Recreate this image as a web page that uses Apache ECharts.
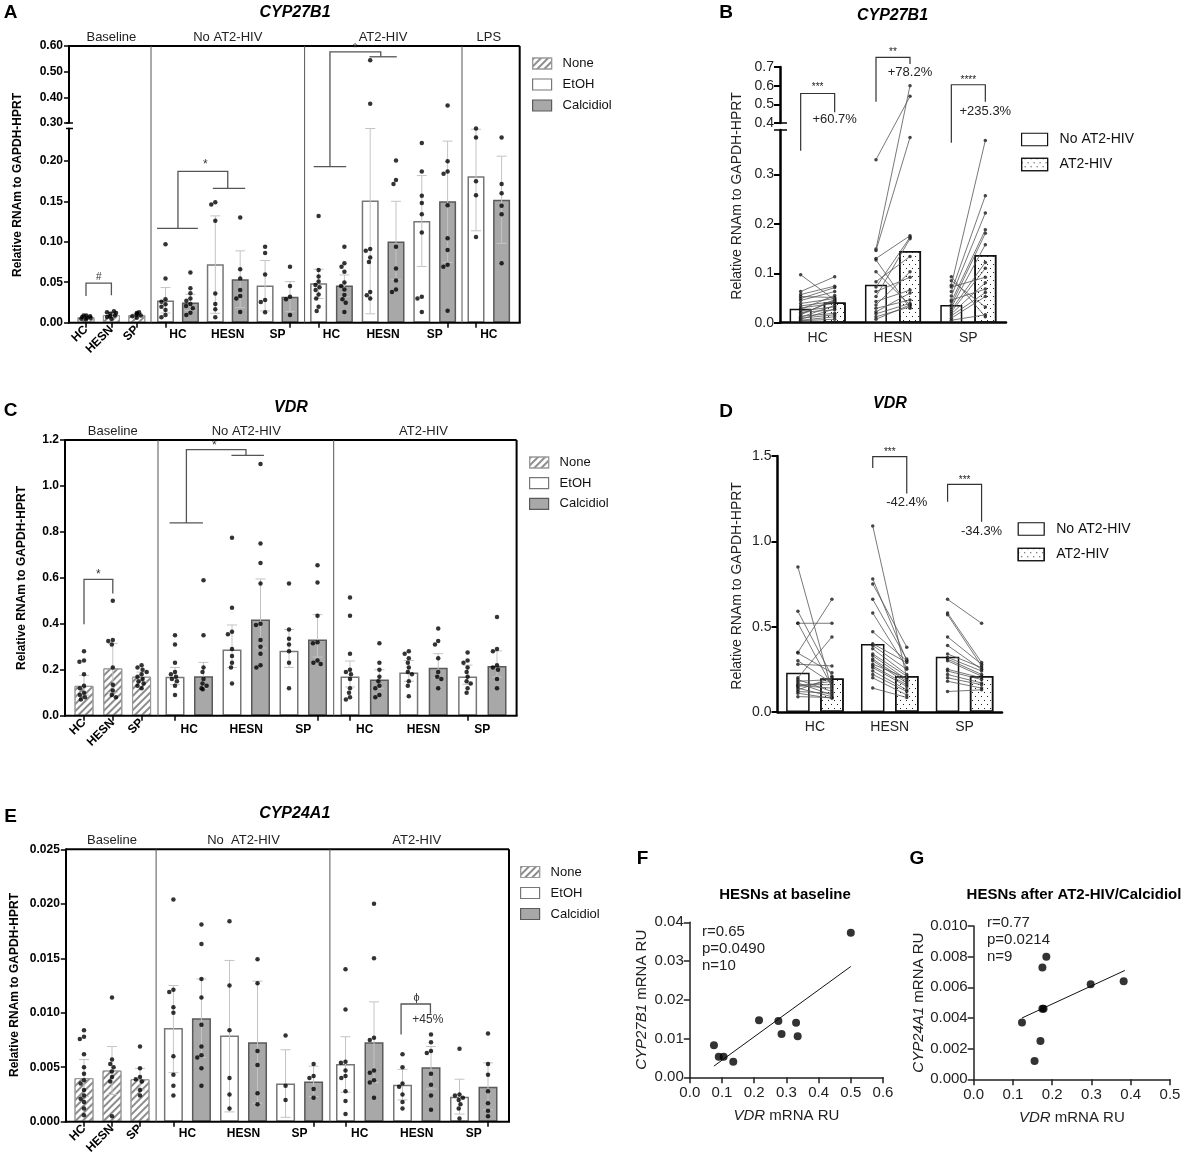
<!DOCTYPE html>
<html>
<head>
<meta charset="utf-8">
<title>CYP27B1 / VDR / CYP24A1</title>
<script src="https://cdn.jsdelivr.net/npm/echarts@6.0.0/dist/echarts.min.js"></script>
<style>
  html, body { margin: 0; padding: 0; background: #fff; }
  #chart { width: 1192px; height: 1162px; }
</style>
</head>
<body>
<div id="chart"></div>
<script>
// ---------- A: CYP27B1 by condition ----------
const groupsA = ["Baseline", "No AT2-HIV", "AT2-HIV", "LPS"];
const donorsA = [["HC", "HESN", "SP"], ["HC", "HESN", "SP"], ["HC", "HESN", "SP"], ["HC"]];
const treatA = [
  ["None", "None", "None"],
  ["EtOH", "Calcidiol", "EtOH", "Calcidiol", "EtOH", "Calcidiol"],
  ["EtOH", "Calcidiol", "EtOH", "Calcidiol", "EtOH", "Calcidiol"],
  ["EtOH", "Calcidiol"]
];
const meanA = [
  [0.007, 0.0095, 0.0095],
  [0.0275, 0.025, 0.0723, 0.0537, 0.0459, 0.0322],
  [0.0488, 0.0459, 0.151, 0.1004, 0.1256, 0.150],
  [0.181, 0.152]
];
const errLoA = [
  [0.005, 0.006, 0.008],
  [0.012, 0.015, 0.0116, 0.0186, 0.0145, 0.0136],
  [0.030, 0.032, 0.011, 0.053, 0.0694, 0.0744],
  [0.1136, 0.098]
];
const errHiA = [
  [0.009, 0.013, 0.011],
  [0.0434, 0.035, 0.132, 0.0888, 0.0769, 0.0508],
  [0.066, 0.059, 0.24, 0.150, 0.1818, 0.2244],
  [0.239, 0.2058]
];
const dotsA = [
  [[0.004, 0.005, 0.006, 0.007, 0.008, 0.009, 0.009, 0.006],
   [0.005, 0.007, 0.009, 0.011, 0.013, 0.014, 0.012, 0.008],
   [0.006, 0.008, 0.009, 0.010, 0.011, 0.012, 0.013]],
  [[0.097, 0.0545, 0.0289, 0.026, 0.0227, 0.0198, 0.0157, 0.0095, 0.0066],
   [0.062, 0.0426, 0.0364, 0.030, 0.027, 0.023, 0.0207, 0.018, 0.0124, 0.0095],
   [0.149, 0.146, 0.126, 0.036, 0.023, 0.0165, 0.0066],
   [0.130, 0.066, 0.0545, 0.0405, 0.033, 0.0298, 0.0132],
   [0.094, 0.086, 0.0595, 0.028, 0.0256, 0.0128],
   [0.069, 0.0455, 0.032, 0.029, 0.0095]],
  [[0.132, 0.065, 0.057, 0.051, 0.0467, 0.0438, 0.0405, 0.035, 0.030, 0.0198, 0.0145],
   [0.094, 0.0736, 0.069, 0.063, 0.0496, 0.0455, 0.041, 0.0343, 0.029, 0.0248, 0.0132],
   [0.544, 0.375, 0.091, 0.089, 0.0806, 0.075, 0.038, 0.034, 0.030],
   [0.2004, 0.1764, 0.1715, 0.094, 0.067, 0.052, 0.041, 0.038],
   [0.222, 0.187, 0.157, 0.148, 0.134, 0.1116, 0.032, 0.0298, 0.0132],
   [0.368, 0.1996, 0.187, 0.184, 0.145, 0.1045, 0.090, 0.0715, 0.069, 0.0149]],
  [[0.240, 0.229, 0.1748, 0.1574, 0.1058],
   [0.229, 0.1715, 0.160, 0.1446, 0.134, 0.0736]]
];

// ---------- B: CYP27B1 paired, no AT2-HIV vs AT2-HIV ----------
const donorsB = ["HC", "HESN", "SP"];
const meanNoB = [0.028, 0.077, 0.036];
const meanAtB = [0.041, 0.145, 0.137];
const pairNoB = [
  [0.097, 0.063, 0.057, 0.053, 0.049, 0.045, 0.039, 0.034, 0.030, 0.027, 0.024, 0.021, 0.018, 0.016, 0.013, 0.011, 0.009, 0.007, 0.005, 0.004],
  [0.33, 0.149, 0.146, 0.130, 0.127, 0.103, 0.083, 0.072, 0.063, 0.053, 0.043, 0.036, 0.029, 0.022, 0.018, 0.012, 0.007],
  [0.093, 0.085, 0.076, 0.072, 0.063, 0.054, 0.046, 0.043, 0.036, 0.031, 0.026, 0.022, 0.018, 0.014, 0.009, 0.005]
];
const pairAtB = [
  [0.046, 0.093, 0.074, 0.051, 0.071, 0.063, 0.049, 0.043, 0.039, 0.055, 0.032, 0.026, 0.044, 0.047, 0.019, 0.035, 0.016, 0.028, 0.012, 0.007],
  [0.543, 0.60, 0.375, 0.176, 0.029, 0.036, 0.134, 0.173, 0.092, 0.170, 0.066, 0.103, 0.046, 0.060, 0.039, 0.032, 0.036],
  [0.012, 0.032, 0.369, 0.092, 0.257, 0.222, 0.068, 0.188, 0.181, 0.158, 0.122, 0.110, 0.081, 0.061, 0.053, 0.016]
];

// ---------- C: VDR by condition ----------
const groupsC = ["Baseline", "No AT2-HIV", "AT2-HIV"];
const donorsC = [["HC", "HESN", "SP"], ["HC", "HESN", "SP"], ["HC", "HESN", "SP"]];
const treatC = [
  ["None", "None", "None"],
  ["EtOH", "Calcidiol", "EtOH", "Calcidiol", "EtOH", "Calcidiol"],
  ["EtOH", "Calcidiol", "EtOH", "Calcidiol", "EtOH", "Calcidiol"]
];
const meanC = [
  [0.130, 0.206, 0.170],
  [0.170, 0.172, 0.288, 0.419, 0.283, 0.332],
  [0.171, 0.158, 0.188, 0.209, 0.171, 0.216]
];
const errLoC = [
  [0.09, 0.10, 0.15],
  [0.135, 0.12, 0.21, 0.295, 0.21, 0.255],
  [0.125, 0.12, 0.15, 0.165, 0.137, 0.168]
];
const errHiC = [
  [0.175, 0.315, 0.19],
  [0.21, 0.232, 0.395, 0.595, 0.375, 0.44],
  [0.238, 0.2, 0.24, 0.27, 0.22, 0.282]
];
const dotsC = [
  [[0.28, 0.24, 0.235, 0.18, 0.13, 0.12, 0.10, 0.09, 0.08, 0.07],
   [0.50, 0.33, 0.325, 0.31, 0.21, 0.135, 0.11, 0.09, 0.08],
   [0.22, 0.21, 0.20, 0.19, 0.18, 0.17, 0.16, 0.15, 0.14, 0.13, 0.12]],
  [[0.35, 0.31, 0.23, 0.19, 0.18, 0.17, 0.16, 0.15, 0.13, 0.09],
   [0.59, 0.35, 0.21, 0.19, 0.16, 0.14, 0.13, 0.12, 0.115],
   [0.775, 0.47, 0.365, 0.355, 0.29, 0.26, 0.23, 0.21, 0.14],
   [1.095, 0.75, 0.665, 0.575, 0.40, 0.395, 0.33, 0.30, 0.27, 0.22, 0.21],
   [0.575, 0.375, 0.335, 0.31, 0.28, 0.23, 0.12],
   [0.655, 0.58, 0.435, 0.32, 0.315, 0.24, 0.23, 0.225]],
  [[0.515, 0.435, 0.27, 0.20, 0.19, 0.18, 0.16, 0.12, 0.10, 0.08, 0.07],
   [0.315, 0.23, 0.20, 0.17, 0.15, 0.13, 0.12, 0.09, 0.08],
   [0.28, 0.27, 0.25, 0.23, 0.21, 0.19, 0.18, 0.15, 0.13, 0.085],
   [0.38, 0.325, 0.31, 0.25, 0.19, 0.17, 0.16, 0.12],
   [0.275, 0.24, 0.23, 0.21, 0.19, 0.17, 0.15, 0.14, 0.12, 0.10],
   [0.43, 0.29, 0.28, 0.22, 0.21, 0.20, 0.16, 0.12]]
];

// ---------- D: VDR paired ----------
const donorsD = ["HC", "HESN", "SP"];
const meanNoD = [0.23, 0.398, 0.324];
const meanAtD = [0.197, 0.211, 0.211];
const pairNoD = [
  [0.85, 0.59, 0.52, 0.52, 0.35, 0.345, 0.30, 0.28, 0.20, 0.19, 0.18, 0.17, 0.16, 0.155, 0.15, 0.14, 0.13, 0.12, 0.11, 0.09],
  [1.09, 0.78, 0.75, 0.66, 0.58, 0.47, 0.40, 0.39, 0.37, 0.34, 0.33, 0.31, 0.30, 0.28, 0.27, 0.26, 0.24, 0.22, 0.20, 0.14],
  [0.66, 0.58, 0.57, 0.44, 0.39, 0.34, 0.32, 0.31, 0.30, 0.25, 0.24, 0.22, 0.20, 0.18, 0.12]
];
const pairAtD = [
  [0.13, 0.21, 0.52, 0.15, 0.66, 0.23, 0.17, 0.27, 0.44, 0.12, 0.19, 0.10, 0.16, 0.14, 0.18, 0.09, 0.20, 0.11, 0.08, 0.085],
  [0.20, 0.30, 0.38, 0.31, 0.26, 0.30, 0.29, 0.25, 0.22, 0.21, 0.19, 0.18, 0.17, 0.20, 0.16, 0.15, 0.13, 0.12, 0.10, 0.085],
  [0.52, 0.29, 0.27, 0.28, 0.25, 0.26, 0.24, 0.22, 0.21, 0.20, 0.19, 0.17, 0.16, 0.14, 0.13]
];

// ---------- E: CYP24A1 by condition ----------
const groupsE = ["Baseline", "No  AT2-HIV", "AT2-HIV"];
const donorsE = donorsC;
const treatE = treatC;
const meanE = [
  [0.0040, 0.0047, 0.0039],
  [0.0086, 0.0095, 0.0079, 0.0073, 0.0035, 0.0037],
  [0.0053, 0.0073, 0.0034, 0.0050, 0.0023, 0.0032]
];
const errLoE = [
  [0.0023, 0.0025, 0.0029],
  [0.0045, 0.0059, 0.0009, 0.0017, 0.0004, 0.0023],
  [0.0027, 0.0036, 0.0020, 0.0030, 0.0007, 0.0011]
];
const errHiE = [
  [0.0057, 0.0069, 0.0049],
  [0.0125, 0.0131, 0.0148, 0.0129, 0.0066, 0.0051],
  [0.0078, 0.0110, 0.0048, 0.0069, 0.0039, 0.0054]
];
const dotsE = [
  [[0.0084, 0.0078, 0.0076, 0.0062, 0.0050, 0.0044, 0.0038, 0.0035, 0.0029, 0.0024, 0.0021, 0.0018, 0.0012, 0.0006],
   [0.0114, 0.0057, 0.0053, 0.0050, 0.0046, 0.0041, 0.0037, 0.0005],
   [0.0069, 0.0049, 0.0041, 0.0039, 0.0037, 0.0029, 0.0024]],
  [[0.0204, 0.0121, 0.0119, 0.0105, 0.0100, 0.0060, 0.0043, 0.0033, 0.0024],
   [0.0181, 0.0163, 0.0131, 0.0114, 0.0089, 0.0069, 0.0061, 0.0059, 0.0049, 0.0033],
   [0.0184, 0.0125, 0.0084, 0.0040, 0.0025, 0.0012],
   [0.0149, 0.0127, 0.0065, 0.0052, 0.0026, 0.0016],
   [0.0079, 0.0033, 0.0020],
   [0.0053, 0.0042, 0.0040, 0.0030, 0.0022]],
  [[0.0140, 0.0103, 0.0055, 0.0054, 0.0047, 0.0042, 0.0040, 0.0028, 0.0019, 0.0007],
   [0.0200, 0.0150, 0.0077, 0.0075, 0.0047, 0.0045, 0.0038, 0.0036, 0.0022],
   [0.0062, 0.0050, 0.0035, 0.0032, 0.0025, 0.0018, 0.0012],
   [0.0080, 0.0073, 0.0065, 0.0063, 0.0044, 0.0034, 0.0024, 0.0011],
   [0.0067, 0.0025, 0.0024, 0.0022, 0.0020, 0.0016, 0.0012, 0.0003],
   [0.0081, 0.0053, 0.0043, 0.0028, 0.0017, 0.0010, 0.0005]]
];

// ---------- F / G: correlations ----------
const pointsF = [[0.075, 0.0083], [0.09, 0.0053], [0.105, 0.0053], [0.135, 0.0040], [0.215, 0.0147],
                 [0.275, 0.0145], [0.285, 0.0112], [0.33, 0.0141], [0.335, 0.0106], [0.50, 0.0373]];
const fitF = [[0.075, 0.0029], [0.50, 0.0286]];
const statsF = ["r=0.65", "p=0.0490", "n=10"];
const pointsG = [[0.123, 0.0037], [0.155, 0.0012], [0.17, 0.0025], [0.175, 0.0073], [0.175, 0.0046],
                 [0.178, 0.0046], [0.185, 0.0080], [0.298, 0.0062], [0.382, 0.0064]];
const fitG = [[0.123, 0.0040], [0.385, 0.0071]];
const statsG = ["r=0.77", "p=0.0214", "n=9"];

// ================= chart =================
const FONT = '"Liberation Sans", Arial, Helvetica, sans-serif';
const chart = echarts.init(document.getElementById("chart"));

const HATCH = {symbol: "rect", symbolSize: 1, dashArrayX: [1, 0], dashArrayY: [1.3, 3], rotation: -Math.PI / 4, color: "#8c8c8c"};
const DOTS = {symbol: "rect", symbolSize: 1, dashArrayX: [[1, 5], [0, 3, 1, 2]], dashArrayY: [1, 3], color: "#222"};
const TREAT_STYLE = {
  None: {color: "#fff", borderColor: "#9a9a9a", borderWidth: 1, decal: HATCH},
  EtOH: {color: "#fff", borderColor: "#777", borderWidth: 1.5},
  Calcidiol: {color: "#a8a8a8", borderColor: "#5a5a5a", borderWidth: 1.5}
};

const grid = [], xAxis = [], yAxis = [], series = [], staticG = [];
const refs = {};

function cart(key, l, t, r, b, xOpt, yOpt) {
  const gi = grid.length;
  grid.push({left: l, top: t, width: r - l, height: b - t});
  xAxis.push(Object.assign({gridIndex: gi}, xOpt));
  yAxis.push(Object.assign({gridIndex: gi}, yOpt));
  refs[key] = {gi: gi, xi: xAxis.length - 1, yi: yAxis.length - 1};
  return refs[key];
}

function line(x1, y1, x2, y2, color, w) {
  return {type: "line", z: 100, silent: true, shape: {x1: x1, y1: y1, x2: x2, y2: y2}, style: {stroke: color, lineWidth: w}};
}
function txt(x, y, text, o) {
  o = o || {};
  return {type: "text", x: x, y: y, rotation: o.rot || 0, z: 100, silent: true,
    style: {text: text, fill: o.color || "#000", fontSize: o.size || 12, fontWeight: o.weight || "normal",
      fontStyle: o.italic ? "italic" : "normal", fontFamily: FONT, align: o.align || "center", verticalAlign: "middle"}};
}

function errorBar(params, api) {
  const i = api.value(0);
  const lo = api.coord([i, api.value(1)]);
  const hi = api.coord([i, api.value(2)]);
  const w = 5, st = {stroke: "#c4c4c4", lineWidth: 1};
  return {type: "group", children: [
    {type: "line", shape: {x1: lo[0], y1: lo[1], x2: hi[0], y2: hi[1]}, style: st},
    {type: "line", shape: {x1: hi[0] - w, y1: hi[1], x2: hi[0] + w, y2: hi[1]}, style: st},
    {type: "line", shape: {x1: lo[0] - w, y1: lo[1], x2: lo[0] + w, y2: lo[1]}, style: st}
  ]};
}

// grouped bar panel (A, C, E)
function barPanel(P) {
  const nSeg = P.segs.length;
  P.segs.forEach((s, si) => {
    cart(P.id + "F" + si, P.box[0], s.top, P.box[1], s.bottom,
      {type: "value", min: 0, max: 1, show: false},
      {type: "value", min: s.min, max: s.max,
        axisLine: {show: true, lineStyle: {color: "#000", width: 2}},
        axisTick: {show: true, length: 5, customValues: s.ticks, lineStyle: {color: "#000", width: 1.5}},
        axisLabel: {customValues: s.ticks, formatter: v => v.toFixed(P.dec), fontFamily: FONT, fontSize: 12,
          fontWeight: "bold", color: "#000", margin: 6},
        splitLine: {show: false}});
  });
  P.groups.forEach((gName, g) => {
    const n = P.treat[g].length, step = P.step[g];
    const l = P.first[g] - step / 2, r = l + n * step;
    const cats = P.treat[g].map((t, i) => P.donors[g][Math.floor(i * P.donors[g].length / n)] + "|" + t + i);
    const rot = g === 0;
    P.segs.forEach((s, si) => {
      const last = si === nSeg - 1;
      const ref = cart(P.id + g + "-" + si, l, s.top, r, s.bottom,
        {type: "category", data: cats, position: "bottom", axisLine: {show: false},
          axisTick: {show: last, alignWithLabel: true, length: 5, lineStyle: {color: "#000", width: 1.5}},
          axisLabel: rot && last ? {interval: 0, rotate: 45, margin: 5, formatter: v => v.split("|")[0],
            fontFamily: FONT, fontSize: 12, fontWeight: "bold", color: "#000"} : {show: false},
          jitter: P.barW * 0.55, jitterOverlap: false, jitterMargin: 0.2},
        {type: "value", min: s.min, max: s.max, show: false});
      if (last && !rot) {
        xAxis.push({gridIndex: ref.gi, type: "category", data: P.donors[g], position: "bottom",
          axisLine: {show: false}, axisTick: {show: false},
          axisLabel: {interval: 0, margin: P.labelMargin, fontFamily: FONT, fontSize: 12, fontWeight: "bold", color: "#000"}});
      }
      if (si === 0) {
        xAxis.push({gridIndex: ref.gi, type: "category", data: [""], position: "top",
          axisLine: {show: false}, axisTick: {show: false}, axisLabel: {show: false},
          name: gName, nameLocation: "middle", nameGap: 2,
          nameTextStyle: {fontFamily: FONT, fontSize: 13, color: "#222"}});
      }
      if (last) {
        ["None", "EtOH", "Calcidiol"].forEach(t => {
          if (P.treat[g].indexOf(t) < 0) return;
          series.push({type: "bar", name: t, xAxisIndex: ref.xi, yAxisIndex: ref.yi, barWidth: P.barW, barGap: "-100%",
            itemStyle: TREAT_STYLE[t], z: 2, silent: true,
            data: P.mean[g].map((v, i) => P.treat[g][i] === t ? v : "-")});
        });
        series.push({type: "custom", xAxisIndex: ref.xi, yAxisIndex: ref.yi, z: 3, silent: true, renderItem: errorBar,
          encode: {x: 0, y: [1, 2]}, data: P.lo[g].map((lo, i) => [i, lo, P.hi[g][i]])});
      }
      const pts = [];
      P.dots[g].forEach((list, i) => list.forEach(v => { if (v >= s.min && v <= s.max) pts.push([i, v]); }));
      series.push({type: "scatter", xAxisIndex: ref.xi, yAxisIndex: ref.yi, z: 4, silent: true,
        symbolSize: P.dot, itemStyle: {color: "#000"}, data: pts});
    });
  });
  // frame
  const top = P.segs[0].top, bot = P.segs[nSeg - 1].bottom;
  staticG.push(line(P.box[0], top, P.box[1], top, "#000", 2));
  staticG.push(line(P.box[1], top, P.box[1], bot, "#000", 2));
  staticG.push(line(P.box[0] - 1, bot, P.box[1] + 1, bot, "#000", 2));
  P.seps.forEach(x => staticG.push(line(x, top, x, bot, "#555", 1)));
  if (nSeg > 1) {
    staticG.push(line(P.box[0] - 3, P.segs[0].bottom, P.box[0] + 4, P.segs[0].bottom, "#000", 1.5));
    staticG.push(line(P.box[0] - 3, P.segs[1].top, P.box[0] + 4, P.segs[1].top, "#000", 1.5));
  }
}

barPanel({id: "A", box: [69, 519.7], seps: [151, 304.6, 462],
  segs: [{top: 46, bottom: 123, min: 0.3, max: 0.6, ticks: [0.3, 0.4, 0.5, 0.6]},
         {top: 128.5, bottom: 322.7, min: 0, max: 0.24, ticks: [0, 0.05, 0.1, 0.15, 0.2]}],
  first: [86, 165.5, 318.6, 476], step: [25.4, 24.9, 25.8, 25.6], barW: 17, dot: 4.5, dec: 2, labelMargin: 6,
  groups: groupsA, donors: donorsA, treat: treatA, mean: meanA, lo: errLoA, hi: errHiA, dots: dotsA});

barPanel({id: "C", box: [65, 516.6], seps: [158, 333.7],
  segs: [{top: 440, bottom: 715.7, min: 0, max: 1.2, ticks: [0, 0.2, 0.4, 0.6, 0.8, 1.0, 1.2]}],
  first: [84, 175, 350], step: [28.8, 28.5, 29.4], barW: 19, dot: 4.5, dec: 1, labelMargin: 8,
  groups: groupsC, donors: donorsC, treat: treatC, mean: meanC, lo: errLoC, hi: errHiC, dots: dotsC});

barPanel({id: "E", box: [65.8, 509], seps: [156.1, 329.9],
  segs: [{top: 849.3, bottom: 1121.7, min: 0, max: 0.025, ticks: [0, 0.005, 0.01, 0.015, 0.02, 0.025]}],
  first: [84, 173.4, 345.5], step: [28, 28.04, 28.5], barW: 19, dot: 4.5, dec: 3, labelMargin: 6,
  groups: groupsE, donors: donorsE, treat: treatE, mean: meanE, lo: errLoE, hi: errHiE, dots: dotsE});

// paired panels (B, D)
const SIDE = 17;
const B_LO_MAX = 0.39;
const pairX = (show) => ({type: "category", data: donorsB, position: "bottom", show: show,
  axisLine: {lineStyle: {color: "#000", width: 2.5}},
  axisTick: {alignWithLabel: true, length: 6, lineStyle: {color: "#000", width: 2}},
  axisLabel: {fontFamily: FONT, fontSize: 14, color: "#222", margin: 8}});
const pairY = (min, max, ticks) => ({type: "value", min: min, max: max,
  axisLine: {show: true, lineStyle: {color: "#000", width: 2.5}},
  axisTick: {show: true, length: 6, customValues: ticks, lineStyle: {color: "#000", width: 2}},
  axisLabel: {customValues: ticks, formatter: v => v.toFixed(1), fontFamily: FONT, fontSize: 14, color: "#222", margin: 6},
  splitLine: {show: false}});

function pairSeries(ref, noVals, atVals, barW, gap, ptsNo, ptsAt) {
  series.push({type: "bar", name: "No AT2-HIV", xAxisIndex: ref.xi, yAxisIndex: ref.yi, barWidth: barW, barGap: gap,
    z: 2, silent: true, itemStyle: {color: "#fff", borderColor: "#111", borderWidth: 1.5}, data: noVals});
  series.push({type: "bar", name: "AT2-HIV", xAxisIndex: ref.xi, yAxisIndex: ref.yi, barWidth: barW, barGap: gap,
    z: 2, silent: true, itemStyle: {color: "#fff", borderColor: "#111", borderWidth: 1.5, decal: DOTS}, data: atVals});
  series.push({type: "scatter", xAxisIndex: ref.xi, yAxisIndex: ref.yi, z: 4, silent: true, symbolSize: 3.5,
    symbolOffset: [-SIDE, 0], itemStyle: {color: "#111"}, data: ptsNo});
  series.push({type: "scatter", xAxisIndex: ref.xi, yAxisIndex: ref.yi, z: 4, silent: true, symbolSize: 3.5,
    symbolOffset: [SIDE, 0], itemStyle: {color: "#111"}, data: ptsAt});
}
function flat(arr, keep) {
  const out = [];
  arr.forEach((list, c) => list.forEach(v => { if (keep(v)) out.push([c, v]); }));
  return out;
}

const rBlo = cart("Blo", 780, 130, 1006, 322.7, pairX(true), pairY(0, B_LO_MAX, [0, 0.1, 0.2, 0.3]));
const rBup = cart("Bup", 780, 67, 1006, 123, pairX(false), pairY(0.4, 0.7, [0.4, 0.5, 0.6, 0.7]));
pairSeries(rBlo, meanNoB, meanAtB, 22, "55%", flat(pairNoB, v => v <= B_LO_MAX), flat(pairAtB, v => v <= B_LO_MAX));
series.push({type: "scatter", xAxisIndex: rBup.xi, yAxisIndex: rBup.yi, z: 4, silent: true, symbolSize: 3.5,
  symbolOffset: [-SIDE, 0], itemStyle: {color: "#111"}, data: flat(pairNoB, v => v > B_LO_MAX)});
series.push({type: "scatter", xAxisIndex: rBup.xi, yAxisIndex: rBup.yi, z: 4, silent: true, symbolSize: 3.5,
  symbolOffset: [SIDE, 0], itemStyle: {color: "#111"}, data: flat(pairAtB, v => v > B_LO_MAX)});
staticG.push(line(774, 123, 787, 123, "#000", 1.5), line(774, 130, 787, 130, "#000", 1.5));

const rD = cart("D", 777.5, 456, 1002, 712, pairX(true), pairY(0, 1.5, [0, 0.5, 1.0, 1.5]));
pairSeries(rD, meanNoD, meanAtD, 23.5, "45%", flat(pairNoD, () => true), flat(pairAtD, () => true));

// correlation panels (F, G)
function corrPanel(key, rect, xMax, yMax, yInt, yDec, yName, pts, fit) {
  const ax = {axisLine: {lineStyle: {color: "#222", width: 1.5}}, axisTick: {length: 6, lineStyle: {color: "#222", width: 1.5}},
    splitLine: {show: false}, nameLocation: "middle"};
  const rich = {i: {fontStyle: "italic", fontSize: 15, fontFamily: FONT, color: "#222"}};
  const ref = cart(key, rect[0], rect[1], rect[2], rect[3],
    Object.assign({type: "value", min: 0, max: xMax, interval: 0.1, name: "{i|VDR} mRNA RU", nameGap: 31,
      nameTextStyle: {fontSize: 15, fontFamily: FONT, color: "#222", rich: rich},
      axisLabel: {formatter: v => v.toFixed(1), fontSize: 15, fontFamily: FONT, color: "#222", margin: 8}}, ax),
    Object.assign({type: "value", min: 0, max: yMax, interval: yInt, name: "{i|" + yName + "} mRNA RU", nameGap: yDec === 2 ? 40 : 46,
      nameTextStyle: {fontSize: 15, fontFamily: FONT, color: "#222", rich: rich},
      axisLabel: {formatter: v => v.toFixed(yDec), fontSize: 15, fontFamily: FONT, color: "#222", margin: 6}}, ax));
  series.push({type: "scatter", xAxisIndex: ref.xi, yAxisIndex: ref.yi, symbolSize: 8, itemStyle: {color: "#000"}, data: pts, z: 4});
  series.push({type: "line", xAxisIndex: ref.xi, yAxisIndex: ref.yi, data: fit, showSymbol: false, symbol: "none",
    lineStyle: {color: "#111", width: 1}, z: 3});
}
corrPanel("F", [689.8, 922.3, 883, 1077.3], 0.6, 0.04, 0.01, 2, "CYP27B1", pointsF, fitF);
corrPanel("G", [973.7, 926, 1170, 1079.3], 0.5, 0.010, 0.002, 3, "CYP24A1", pointsG, fitG);

// texts
staticG.push(
  txt(10.5, 12.5, "A", {size: 19, weight: "bold"}),
  txt(726, 12.5, "B", {size: 19, weight: "bold"}),
  txt(10.5, 411, "C", {size: 19, weight: "bold"}),
  txt(726, 412, "D", {size: 19, weight: "bold"}),
  txt(10.5, 816.5, "E", {size: 19, weight: "bold"}),
  txt(642.5, 859, "F", {size: 19, weight: "bold"}),
  txt(916.8, 859, "G", {size: 19, weight: "bold"}),
  txt(295, 13, "CYP27B1", {size: 16, weight: "bold", italic: true}),
  txt(892.5, 16, "CYP27B1", {size: 16, weight: "bold", italic: true}),
  txt(291, 408, "VDR", {size: 16, weight: "bold", italic: true}),
  txt(890, 404, "VDR", {size: 16, weight: "bold", italic: true}),
  txt(294.7, 813.5, "CYP24A1", {size: 16, weight: "bold", italic: true}),
  txt(785, 895, "HESNs at baseline", {size: 15, weight: "bold"}),
  txt(1074, 895, "HESNs after AT2-HIV/Calcidiol", {size: 15, weight: "bold"}),
  txt(18, 185, "Relative RNAm to GAPDH-HPRT", {size: 12, weight: "bold", rot: Math.PI / 2}),
  txt(22, 578, "Relative RNAm to GAPDH-HPRT", {size: 12, weight: "bold", rot: Math.PI / 2}),
  txt(15, 985, "Relative RNAm to GAPDH-HPRT", {size: 12, weight: "bold", rot: Math.PI / 2}),
  txt(737, 196, "Relative RNAm to GAPDH-HPRT", {size: 14, color: "#222", rot: Math.PI / 2}),
  txt(737, 586, "Relative RNAm to GAPDH-HPRT", {size: 14, color: "#222", rot: Math.PI / 2})
);
statsF.forEach((s, i) => staticG.push(txt(702, 931.7 + i * 17, s, {size: 15, color: "#222", align: "left"})));
statsG.forEach((s, i) => staticG.push(txt(987, 923.3 + i * 17, s, {size: 15, color: "#222", align: "left"})));

const legendBase = {orient: "vertical", icon: "rect", selectedMode: false, itemStyle: {borderWidth: 1.2},
  textStyle: {fontFamily: FONT, fontSize: 13, color: "#111", padding: [0, 0, 0, 6]}};
const option = {
  animation: false,
  backgroundColor: "#fff",
  grid: grid, xAxis: xAxis, yAxis: yAxis, series: series,
  legend: [
    Object.assign({}, legendBase, {data: ["None", "EtOH", "Calcidiol"], left: 527, top: 52, itemWidth: 19, itemHeight: 11, itemGap: 8}),
    Object.assign({}, legendBase, {data: ["None", "EtOH", "Calcidiol"], left: 524, top: 451, itemWidth: 19, itemHeight: 11, itemGap: 7.7}),
    Object.assign({}, legendBase, {data: ["None", "EtOH", "Calcidiol"], left: 515, top: 860.5, itemWidth: 19, itemHeight: 11, itemGap: 8}),
    Object.assign({}, legendBase, {data: ["No AT2-HIV", "AT2-HIV"], left: 1016, top: 127.5, itemWidth: 26, itemHeight: 12.5, itemGap: 11,
      textStyle: {fontFamily: FONT, fontSize: 14, color: "#111", padding: [0, 0, 0, 7]}}),
    Object.assign({}, legendBase, {data: ["No AT2-HIV", "AT2-HIV"], left: 1012.6, top: 517, itemWidth: 26, itemHeight: 12.5, itemGap: 11.5,
      textStyle: {fontFamily: FONT, fontSize: 14, color: "#111", padding: [0, 0, 0, 7]}})
  ]
};
chart.setOption(option);

// ---------- second pass: annotations placed through the axes ----------
function toPx(key, x, v) {
  const r = refs[key];
  const f = {xAxisIndex: r.xi, yAxisIndex: r.yi};
  const x0 = Math.floor(x), t = x - x0;
  const a = chart.convertToPixel(f, [x0, v]);
  if (t === 0) return a;
  const b = chart.convertToPixel(f, [x0 + 1, v]);
  return [a[0] + t * (b[0] - a[0]), a[1]];
}
const pxB = (c, side, v) => { const p = toPx(v > B_LO_MAX ? "Bup" : "Blo", c, v); return [p[0] + side * SIDE, p[1]]; };
const pxD = (c, side, v) => { const p = toPx("D", c, v); return [p[0] + side * SIDE, p[1]]; };
const poly = (pts, color, w) => ({type: "polyline", z: 100, silent: true, shape: {points: pts},
  style: {stroke: color, lineWidth: w, fill: null}});

// significance brackets: [gridKey, categoryIndex, value]
const bracketsACE = [
  [["A0-1", 0, 0.033], ["A0-1", 0, 0.049], ["A0-1", 1, 0.049], ["A0-1", 1, 0.034]],
  [["A1-1", -0.34, 0.1165], ["A1-1", 1.3, 0.1165]],
  [["A1-1", 0.5, 0.1165], ["A1-1", 0.5, 0.187], ["A1-1", 2.5, 0.187], ["A1-1", 2.5, 0.166]],
  [["A1-1", 1.9, 0.166], ["A1-1", 3.2, 0.166]],
  [["A2-1", -0.19, 0.193], ["A2-1", 1.07, 0.193]],
  [["A2-1", 0.44, 0.193], ["A2-0", 0.44, 0.577], ["A2-0", 2.41, 0.577], ["A2-0", 2.41, 0.558]],
  [["A2-0", 1.97, 0.558], ["A2-0", 3.03, 0.558]],
  [["C0-0", 0, 0.398], ["C0-0", 0, 0.593], ["C0-0", 1, 0.593], ["C0-0", 1, 0.532]],
  [["C1-0", -0.19, 0.839], ["C1-0", 0.98, 0.839]],
  [["C1-0", 0.4, 0.839], ["C1-0", 0.4, 1.158], ["C1-0", 2.49, 1.158], ["C1-0", 2.49, 1.133]],
  [["C1-0", 1.98, 1.133], ["C1-0", 3.12, 1.133]],
  [["E2-0", 1.95, 0.0080], ["E2-0", 1.95, 0.0108], ["E2-0", 2.98, 0.0108], ["E2-0", 2.98, 0.0099]]
];
const marksACE = [
  ["A0-1", 0.5, 0.056, "#", 10], ["A1-1", 1.6, 0.195, "*", 12], ["A2-0", 1.41, 0.59, "*", 12],
  ["C0-0", 0.5, 0.612, "*", 12], ["C1-0", 1.38, 1.175, "*", 12],
  ["E2-0", 2.49, 0.0114, "\u03d5", 11], ["E2-0", 2.89, 0.0094, "+45%", 12]
];
// paired brackets: [category, side, value]
const bracketsB = [
  [[0, -1, 0.348], [0, -1, 0.558], [0, 1, 0.558], [0, 1, 0.457]],
  [[1, -1, 0.514], [1, -1, 0.752], [1, 1, 0.752], [1, 1, 0.716]],
  [[2, -1, 0.364], [2, -1, 0.605], [2, 1, 0.605], [2, 1, 0.514]]
];
const marksB = [[0, 0, 0.59, "***", 10], [0, 1, 0.42, "+60.7%", 13], [1, 0, 0.777, "**", 10], [1, 1, 0.673, "+78.2%", 13],
  [2, 0, 0.627, "****", 10], [2, 1, 0.46, "+235.3%", 13]];
const bracketsD = [
  [[1, -1, 1.43], [1, -1, 1.496], [1, 1, 1.496], [1, 1, 1.281]],
  [[2, -1, 1.232], [2, -1, 1.334], [2, 1, 1.334], [2, 1, 1.115]]
];
const marksD = [[1, 0, 1.52, "***", 10], [1, 1, 1.226, "-42.4%", 13], [2, 0, 1.357, "***", 10], [2, 1, 1.056, "-34.3%", 13]];

const dyn = [];
bracketsACE.forEach(b => dyn.push(poly(b.map(p => toPx(p[0], p[1], p[2])), "#555", 1.3)));
marksACE.forEach(m => { const p = toPx(m[0], m[1], m[2]); dyn.push(txt(p[0], p[1], m[3], {size: m[4], color: "#333"})); });
bracketsB.forEach(b => dyn.push(poly(b.map(p => pxB(p[0], p[1], p[2])), "#333", 1.2)));
marksB.forEach(m => { const p = pxB(m[0], m[1], m[2]); dyn.push(txt(p[0], p[1], m[3], {size: m[4], color: "#222"})); });
bracketsD.forEach(b => dyn.push(poly(b.map(p => pxD(p[0], p[1], p[2])), "#333", 1.2)));
marksD.forEach(m => { const p = pxD(m[0], m[1], m[2]); dyn.push(txt(p[0], p[1], m[3], {size: m[4], color: "#222"})); });
// paired lines
pairNoB.forEach((list, c) => list.forEach((v, k) => {
  const a = pxB(c, -1, v), b = pxB(c, 1, pairAtB[c][k]);
  dyn.push(line(a[0], a[1], b[0], b[1], "#555", 0.8));
}));
pairNoD.forEach((list, c) => list.forEach((v, k) => {
  const a = pxD(c, -1, v), b = pxD(c, 1, pairAtD[c][k]);
  dyn.push(line(a[0], a[1], b[0], b[1], "#555", 0.8));
}));

chart.setOption({graphic: {elements: staticG.concat(dyn)}});
window.onresize = chart.resize;
</script>
</body>
</html>
